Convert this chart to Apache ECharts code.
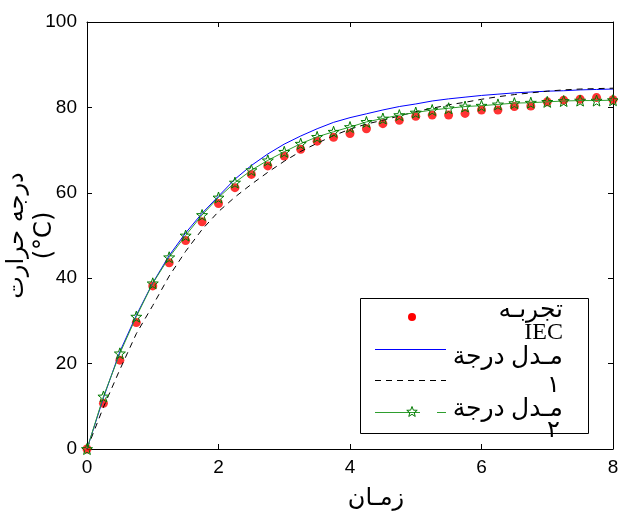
<!DOCTYPE html>
<html><head><meta charset="utf-8">
<script src="https://cdn.jsdelivr.net/npm/echarts@6/dist/echarts.min.js"></script>
<style>html,body{margin:0;padding:0;background:#fff}#c{width:618px;height:522px}</style>
</head><body><div id="c"></div>
<script>
// time axis (category of sample times)
const times = [0,0.25,0.5,0.75,1,1.25,1.5,1.75,2,2.25,2.5,2.75,3,3.25,3.5,3.75,4,4.25,4.5,4.75,5,5.25,5.5,5.75,6,6.25,6.5,6.75,7,7.25,7.5,7.75,8];
// experiment (red dots)
const experiment = [0,10.7,20.8,29.6,38.2,43.6,48.8,53.2,57.5,61.2,64.3,66.3,68.6,70.2,72.1,73.0,73.9,75.0,76.2,77.0,77.9,78.2,78.2,78.6,79.4,79.4,80.2,80.3,81.3,81.7,81.9,82.3,81.8];
// IEC (blue line)
const iec = [0,12.0,22.8,31.3,38.9,45.3,50.6,55.2,59.2,63.2,66.4,69.1,71.4,73.3,75.0,76.5,77.6,78.5,79.4,80.2,80.8,81.5,82.0,82.4,82.8,83.1,83.4,83.6,83.8,83.9,84.1,84.2,84.3];
// model 1 (black dashed)
const model1 = [0,9.8,18.6,27.0,33.6,40.5,46.3,51.4,55.6,59.0,62.0,64.8,67.4,69.7,71.6,73.4,74.9,76.1,77.0,78.0,79.0,79.8,80.6,81.2,81.9,82.5,83.0,83.4,83.8,84.1,84.3,84.4,84.5];
// model 2 (green stars)
const model2 = [0,12.3,22.4,31.0,38.8,44.9,50.0,54.8,58.9,62.4,65.3,67.6,69.6,71.5,73.1,74.3,75.4,76.6,77.4,78.2,78.8,79.4,79.8,80.2,80.4,80.7,81.0,81.1,81.3,81.5,81.6,81.6,81.7];
const xTicks = {min:0, max:8, interval:2};
const yTicks = {min:0, max:100, interval:20};
const xName = 'زمـان';
const yName = 'درجه حرارت\n(°C)';
const legendLabels = ['تجربـه','IEC','مـدل درجة','١','مـدل درجة','٢'];

const pairs = v => times.map((t,i)=>[t,v[i]]);
const STAR = 'path://M0,-10L2.35,-3.24L9.51,-3.09L3.8,1.24L5.88,8.09L0,4.5L-5.88,8.09L-3.8,1.24L-9.51,-3.09L-2.35,-3.24Z';
const numFont = "'Liberation Sans', Arial, sans-serif";
const arFont = "'DejaVu Sans', sans-serif";
const legFont = "'Liberation Serif', 'DejaVu Sans', serif";

const chart = echarts.init(document.getElementById('c'), null, {renderer:'canvas'});
const axisCommon = {
  axisLine:{show:true, onZero:false, lineStyle:{color:'#000', width:1}},
  axisTick:{show:true, inside:true, length:5, lineStyle:{color:'#000'}},
  splitLine:{show:false}
};
function starPoints(cx, cy, r){
  const pts=[];
  for(let k=0;k<10;k++){
    const a = -Math.PI/2 + k*Math.PI/5;
    const rr = k%2===0 ? r : r*0.42;
    pts.push([cx+rr*Math.cos(a), cy+rr*Math.sin(a)]);
  }
  return pts;
}
chart.setOption({
  animation:false,
  backgroundColor:'#fff',
  grid:{left:87, right:5, top:22, bottom:73, containLabel:false, outerBoundsMode:'none'},
  xAxis:[
    Object.assign({type:'value', position:'bottom', min:xTicks.min, max:xTicks.max, interval:xTicks.interval,
      axisLabel:{color:'#000', fontSize:19, fontFamily:numFont, margin:9},
      name:xName, nameLocation:'middle', nameGap:38, nameMoveOverlap:false,
      nameTextStyle:{color:'#000', fontSize:24, fontFamily:arFont, padding:[0,0,0,52]}}, axisCommon),
    Object.assign({type:'value', position:'top', min:xTicks.min, max:xTicks.max, interval:xTicks.interval,
      axisLabel:{show:false}}, axisCommon)
  ],
  yAxis:[
    Object.assign({type:'value', position:'left', min:yTicks.min, max:yTicks.max, interval:yTicks.interval,
      axisLabel:{color:'#000', fontSize:19, fontFamily:numFont, margin:10},
      name:yName, nameLocation:'middle', nameGap:28, nameRotate:90, nameMoveOverlap:false,
      nameTextStyle:{color:'#000', fontSize:24, fontFamily:arFont, lineHeight:28}}, axisCommon),
    Object.assign({type:'value', position:'right', min:yTicks.min, max:yTicks.max, interval:yTicks.interval,
      axisLabel:{show:false}}, axisCommon)
  ],
  series:[
    {name:legendLabels[0], type:'scatter', data:pairs(experiment), symbol:'circle', symbolSize:9,
      itemStyle:{color:'#ff0000'}, z:2},
    {name:'IEC', type:'line', data:pairs(iec), showSymbol:false, smooth:false,
      lineStyle:{color:'#0000ff', width:1}, z:3},
    {name:'model1', type:'line', data:pairs(model1), showSymbol:false,
      lineStyle:{color:'#000', width:1, type:[6,5]}, z:3},
    {name:'model2', type:'line', data:pairs(model2), symbol:STAR, symbolSize:11, showAllSymbol:true,
      lineStyle:{color:'#2e9e2e', width:1},
      itemStyle:{color:'rgba(0,0,0,0)', borderColor:'#007a00', borderWidth:1}, z:4}
  ],
  graphic:[
    {type:'group', z:100, children:[
      {type:'rect', shape:{x:360.5, y:298.5, width:228, height:135}, style:{fill:'#fff', stroke:'#000', lineWidth:1}},
      {type:'circle', shape:{cx:412, cy:317, r:4}, style:{fill:'#ff0000'}},
      {type:'text', x:563, y:310, style:{text:legendLabels[0], font:"25px "+legFont, fill:'#000', textAlign:'right', textVerticalAlign:'middle'}},
      {type:'text', x:563, y:333, style:{text:legendLabels[1], font:"24px "+legFont, fill:'#000', textAlign:'right', textVerticalAlign:'middle'}},
      {type:'line', shape:{x1:375, y1:349.5, x2:446, y2:349.5}, style:{stroke:'#0000ff', lineWidth:1}},
      {type:'text', x:563, y:357, style:{text:legendLabels[2], font:"25px "+legFont, fill:'#000', textAlign:'right', textVerticalAlign:'middle'}},
      {type:'line', shape:{x1:375, y1:380.5, x2:446, y2:380.5}, style:{stroke:'#000', lineWidth:1, lineDash:[6,5]}},
      {type:'text', x:560, y:386, style:{text:legendLabels[3], font:"24px "+legFont, fill:'#000', textAlign:'right', textVerticalAlign:'middle'}},
      {type:'line', shape:{x1:375, y1:412.5, x2:420, y2:412.5}, style:{stroke:'#2e9e2e', lineWidth:1}},
      {type:'line', shape:{x1:437, y1:412.5, x2:446, y2:412.5}, style:{stroke:'#2e9e2e', lineWidth:1}},
      {type:'polygon', shape:{points:starPoints(412,412,5.5)}, style:{fill:'none', stroke:'#007a00', lineWidth:1}},
      {type:'text', x:563, y:409, style:{text:legendLabels[4], font:"25px "+legFont, fill:'#000', textAlign:'right', textVerticalAlign:'middle'}},
      {type:'text', x:560, y:431, style:{text:legendLabels[5], font:"24px "+legFont, fill:'#000', textAlign:'right', textVerticalAlign:'middle'}}
    ]}
  ]
});
</script></body></html>
